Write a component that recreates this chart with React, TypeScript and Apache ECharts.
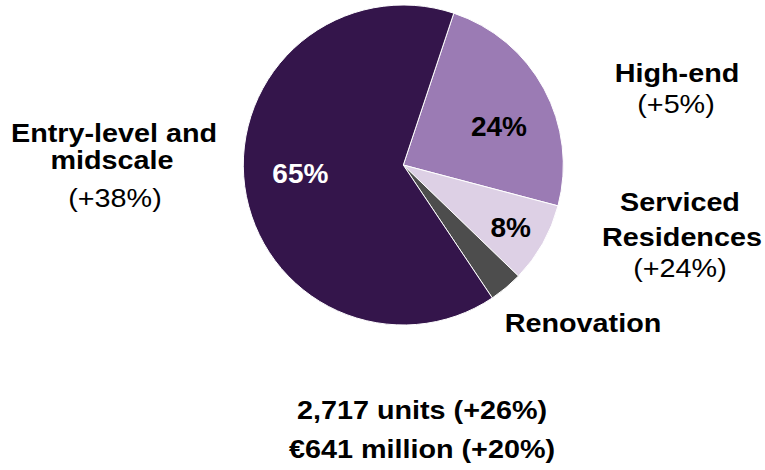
import React, { useEffect, useRef } from "react";
import * as echarts from "echarts";

const categories = ["High-end", "Serviced Residences", "Renovation", "Entry-level and midscale"];
const shares = [24, 8.1, 3.4, 64.5];
const shareLabels = ["24%", "8%", "", "65%"];
const growthLabels = ["(+5%)", "(+24%)", "", "(+38%)"];
const totalUnits = "2,717 units (+26%)";
const totalValue = "€641 million (+20%)";

const colors = ["#9B7BB4", "#DDD0E5", "#4D4D4D", "#34154B"];
const labelColors = ["#000000", "#000000", "#000000", "#FFFFFF"];
const labelOffsets: number[][] = [
  [22.6, 1.3],
  [35, 21.7],
  [0, 0],
  [-20.7, -3],
];

const FONT = "'Liberation Sans', Arial, Helvetica, sans-serif";

function txt(text: string, x: number, y: number, bold: boolean) {
  return {
    type: "text",
    x,
    y,
    scaleX: 1.15,
    silent: true,
    style: {
      text,
      x: 0,
      y: 0,
      fill: "#000",
      fontFamily: FONT,
      fontSize: 25,
      fontWeight: bold ? "bold" : "normal",
      align: "center",
      verticalAlign: "middle",
      textAlign: "center",
      textVerticalAlign: "middle",
    },
  };
}

export default function App() {
  const ref = useRef<HTMLDivElement>(null);
  useEffect(() => {
    document.body.style.margin = "0";
    const chart = echarts.init(ref.current!, null, { renderer: "svg" });
    chart.setOption({
      animation: false,
      backgroundColor: "#ffffff",
      series: [
        {
          type: "pie",
          center: [403.3, 165],
          radius: [0, 160],
          startAngle: 71.6,
          clockwise: true,
          avoidLabelOverlap: false,
          silent: true,
          itemStyle: { borderColor: "#ffffff", borderWidth: 1 },
          label: {
            show: true,
            position: "inside",
            fontFamily: FONT,
            fontSize: 28,
            fontWeight: "bold",
            formatter: (p: any) => shareLabels[p.dataIndex],
          },
          labelLine: { show: false },
          labelLayout: (p: any) => ({
            dx: labelOffsets[p.dataIndex][0],
            dy: labelOffsets[p.dataIndex][1],
          }),
          data: categories.map((name, i) => ({
            name,
            value: shares[i],
            itemStyle: { color: colors[i] },
            label: { color: labelColors[i] },
          })),
        },
      ],
      graphic: [
        txt("Entry-level and", 114, 134, true),
        txt("midscale", 112, 161, true),
        txt(growthLabels[3], 115, 198.5, false),
        txt("High-end", 677, 74, true),
        txt(growthLabels[0], 676, 105, false),
        txt("Serviced", 680, 203, true),
        txt("Residences", 682, 237.5, true),
        txt(growthLabels[1], 680, 268.5, false),
        txt("Renovation", 583, 324, true),
        txt(totalUnits, 422, 410.5, true),
        txt(totalValue, 422, 450, true),
      ],
    });
    return () => chart.dispose();
  }, []);
  return (
    <div
      ref={ref}
      style={{ position: "fixed", left: 0, top: 0, width: 765, height: 470 }}
    />
  );
}
